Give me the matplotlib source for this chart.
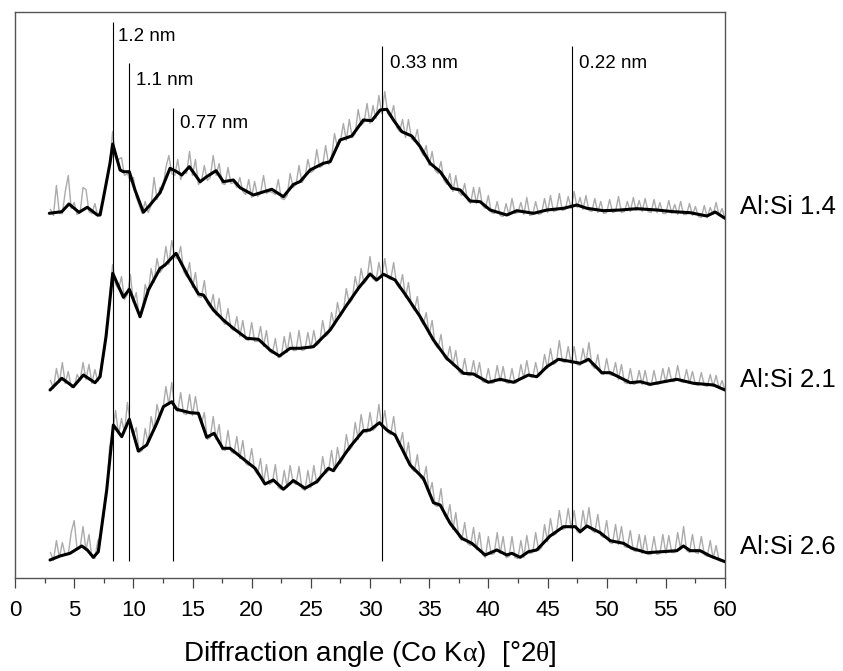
import numpy as np
import matplotlib
matplotlib.use("Agg")
import matplotlib.pyplot as plt

plt.rcParams['font.family'] = ['Liberation Sans', 'DejaVu Sans']
plt.rcParams['mathtext.fontset'] = 'custom'
plt.rcParams['mathtext.rm'] = 'Liberation Serif'
plt.rcParams['mathtext.it'] = 'Liberation Serif:italic'

# ---------------- data ----------------
sample_labels = ["Al:Si 1.4", "Al:Si 2.1", "Al:Si 2.6"]
stack_offsets = [360, 185, 15]

peak_angles = [8.31, 9.63, 13.38, 31.0, 47.03]
peak_labels = ["1.2 nm", "1.1 nm", "0.77 nm", "0.33 nm", "0.22 nm"]

# raw (noisy) intensities, step 0.25 deg from 3 to 60 (one row per degree)
raw_angle = np.arange(3.0, 60.001, 0.25)
raw_14 = [
    8, 2, 32, 4,      4, 26, 42, 9,     15, 3, 5, 30,     28, 6, 4, 14,
    1, 9, 18, 38,     52, 86, 60, 58,   60, 42, 44, 36,   40, 20, 12, 4,
    16, 5, 12, 40,    18, 30, 28, 50,   62, 44, 42, 58,   38, 46, 44, 66,
    42, 58, 33, 36,   52, 37, 40, 62,   42, 54, 34, 33,   50, 34, 35, 30,
    40, 26, 23, 38,   20, 36, 21, 24,   42, 24, 26, 25,   23, 38, 19, 18,
    22, 44, 30, 33,   52, 35, 40, 58,   45, 47, 68, 50,   52, 72, 53, 60,
    84, 70, 76, 94,   77, 98, 80, 84,   108, 92, 95, 114, 94, 112, 99, 122,
    104, 126, 104, 100, 112, 90, 86, 98, 80, 98, 79, 76,  88, 68, 62, 72,
    52, 66, 47, 44,   56, 37, 33, 44,   26, 42, 25, 22,   34, 17, 14, 30,
    14, 30, 12, 9,    22, 5, 4, 16,     2, 1, 14, 2,      19, 4, 5, 15,
    3, 20, 2, 3,      16, 3, 4, 19,     5, 22, 6, 7,      24, 7, 8, 21,
    9, 26, 10, 20,    8, 22, 7, 6,      19, 5, 16, 4,     5, 18, 5, 6,
    21, 5, 6, 16,     6, 20, 7, 17,     6, 19, 6, 5,      18, 5, 15, 4,
    4, 17, 4, 13,     3, 16, 3, 3,      14, 2, 11, 1,     0, 12, 0, 10,
    3, 15, 2, 9,      -1,
]
raw_21 = [
    12, 4, 24, 10,    30, 9, 21, 5,     5, 18, 12, 30,    13, 28, 9, 23,
    11, 24, 38, 60,   96, 128, 108, 103, 116, 93, 98, 118, 90, 100, 75, 80,
    108, 98, 124, 110, 134, 120, 124, 146, 128, 152, 135, 134, 146, 121, 116, 130,
    105, 120, 96, 95, 112, 89, 85, 98,  77, 94, 72, 68,   84, 64, 62, 76,
    56, 72, 53, 52,   70, 51, 51, 66,   46, 62, 41, 39,   54, 35, 36, 56,
    40, 60, 42, 42,   62, 42, 43, 60,   44, 62, 47, 50,   72, 56, 59, 80,
    67, 90, 76, 81,   104, 89, 93, 116, 102, 124, 109, 113, 136, 114, 111, 130,
    115, 134, 115, 113, 130, 108, 104, 118, 95, 110, 87, 82, 96, 73, 68, 80,
    58, 72, 48, 44,   58, 36, 32, 46,   27, 42, 21, 18,   34, 17, 17, 32,
    15, 30, 11, 10,   24, 9, 10, 27,   11, 26, 10, 9,    24, 9, 11, 28,
    14, 32, 16, 15,   30, 16, 19, 38,   24, 44, 28, 30,   52, 31, 30, 46,
    29, 46, 28, 27,   44, 30, 50, 27,   24, 38, 19, 18,   34, 18, 17, 30,
    13, 28, 10, 9,    24, 8, 9, 22,     8, 22, 7, 7,      22, 8, 9, 24,
    10, 25, 11, 11,   27, 11, 10, 23,   9, 21, 8, 7,      20, 7, 6, 18,
    6, 17, 4, 12,     2,
]
raw_26 = [
    10, 2, 22, 5,     20, 7, 8, 30,     42, 13, 15, 36,   12, 28, 5, 4,
    22, 26, 48, 70,   116, 129, 152, 128, 144, 130, 160, 137, 127, 135, 110, 112,
    134, 119, 146, 132, 158, 145, 153, 176, 158, 180, 154, 151, 170, 149, 148, 168,
    147, 166, 147, 139, 150, 123, 125, 146, 123, 138, 113, 112, 132, 111, 109, 126,
    104, 122, 99, 97, 114, 92, 88, 104, 79, 98, 78, 80,   98, 75, 73, 92,
    75, 97, 80, 78,   96, 74, 72, 92,   75, 97, 79, 82,   106, 89, 92, 112,
    91, 115, 99, 104, 128, 112, 116, 140, 123, 148, 130, 130, 150, 132, 135, 158,
    135, 152, 130, 128, 146, 122, 116, 130, 104, 120, 94, 91, 108, 85, 82, 96,
    68, 80, 57, 56,   74, 48, 43, 58,   33, 50, 26, 22,   40, 19, 17, 35,
    13, 30, 8, 5,     26, 8, 9, 30,     9, 26, 5, 6,      26, 5, 4, 22,
    5, 27, 9, 10,     30, 12, 15, 38,   21, 44, 27, 29,   52, 33, 34, 54,
    34, 52, 31, 29,   52, 34, 55, 32,   30, 48, 27, 25,   42, 20, 19, 38,
    18, 36, 16, 15,   32, 12, 11, 28,   9, 27, 8, 8,      26, 8, 9, 28,
    9, 27, 10, 10,    30, 13, 36, 12,   10, 28, 10, 9,    26, 8, 6, 22,
    4, 17, 2, 1,      1,
]

# smoothed curves
smooth_angle_14 = [2.9, 3.95, 4.56, 5.41, 6.11, 6.96, 7.19, 7.6, 8.03, 8.26, 8.88, 9.16, 9.66,
                   10.14, 10.85, 11.41, 12.26, 13.1, 13.67, 14.09, 14.73, 15.64, 16.2, 16.99,
                   17.61, 18.45, 19.02, 20.14, 21.7, 22.68, 23.52, 24.1, 24.94, 26.06, 26.63,
                   27.47, 28.46, 29.44, 30.15, 30.86, 31.42, 31.98, 32.69, 33.53, 34.24, 35.08,
                   35.93, 36.92, 37.62, 38.46, 39.31, 40.15, 41.56, 42.41, 43.82, 44.95, 46.35,
                   47.48, 48.33, 49.73, 51.14, 52.55, 54.24, 55.65, 57.06, 58.47, 59.17, 60.0]
smooth_14 = [4.2, 5.8, 13.5, 5.2, 10.2, 2.5, 2.5, 27.5, 54.5, 73.5, 47.5, 45.8, 45.8,
             27.5, 5.2, 12.5, 24.8, 49.2, 45.8, 42.5, 50.8, 35.8, 40.8, 46.8,
             35.8, 37.5, 29.8, 22.5, 28.2, 20.8, 33.0, 36.0, 47.5, 54.2, 55.8,
             77.5, 81.5, 97.5, 96.8, 107.5, 108.2, 97.5, 85.8, 81.5, 70.8, 54.2,
             45.8, 29.2, 27.5, 16.5, 15.8, 7.5, 2.5, 6.8, 4.2, 7.5, 9.2,
             12.5, 9.2, 6.8, 7.5, 8.8, 7.5, 5.8, 4.8, 1.5, 5.5, -0.8]

smooth_angle_21 = [2.96, 3.95, 4.93, 5.78, 6.76, 7.19, 7.69, 8.26, 9.16, 9.66, 10.57, 11.27,
                   12.26, 12.68, 13.61, 14.65, 15.5, 15.92, 16.76, 17.61, 18.45, 19.58, 20.57,
                   21.55, 22.34, 23.25, 24.1, 25.22, 26.63, 28.04, 29.02, 30.0, 30.57, 31.14,
                   32.12, 33.11, 34.24, 35.36, 36.49, 37.9, 38.74, 40.0, 41.0, 42.12, 43.39,
                   44.09, 44.95, 45.92, 47.06, 47.77, 48.47, 49.59, 50.3, 51.99, 52.83, 53.68,
                   55.93, 57.34, 59.03, 60.0]
smooth_21 = [2.5, 14.2, 5.8, 17.5, 9.8, 15.8, 55.8, 119.2, 95.2, 103.2, 75.8, 102.5,
             124.2, 127.5, 139.2, 115.8, 98.5, 97.5, 82.5, 72.5, 64.2, 54.2, 53.2,
             42.5, 36.5, 44.2, 44.2, 45.8, 62.5, 87.5, 104.2, 118.5, 112.5, 118.2,
             112.5, 95.8, 75.8, 52.5, 34.2, 19.2, 18.5, 10.2, 13.2, 10.2, 17.5,
             15.8, 25.8, 33.2, 30.8, 29.2, 33.2, 19.8, 19.8, 9.8, 10.8, 8.2,
             13.2, 9.2, 7.5, 2.5]

smooth_angle_26 = [2.96, 3.8, 4.65, 5.64, 6.11, 6.62, 7.04, 7.75, 8.31, 9.02, 9.66, 10.42,
                   11.13, 11.98, 12.54, 13.25, 13.67, 14.79, 15.5, 16.2, 16.82, 17.56, 18.17,
                   19.58, 20.29, 21.13, 21.83, 22.68, 23.52, 24.51, 25.5, 26.48, 26.9, 28.32,
                   29.44, 30.0, 30.8, 31.42, 32.12, 33.39, 34.51, 35.36, 35.93, 36.77, 37.76,
                   38.6, 39.73, 40.72, 41.56, 41.99, 42.69, 43.39, 44.09, 45.22, 46.35, 47.34,
                   47.77, 48.33, 49.45, 50.3, 51.42, 52.13, 53.4, 55.93, 56.49, 57.06, 57.9,
                   58.75, 60.0]
smooth_26 = [2.5, 6.5, 9.2, 16.5, 12.5, 5.2, 10.8, 72.5, 137.5, 125.8, 143.2, 111.5,
             117.5, 139.2, 155.8, 160.8, 153.2, 149.8, 149.2, 125.2, 129.2, 114.2, 114.2,
             100.8, 94.2, 78.5, 82.5, 73.2, 82.0, 74.2, 80.8, 94.2, 91.8, 115.8,
             131.8, 132.5, 139.8, 132.5, 127.5, 97.5, 84.2, 59.8, 57.5, 39.2, 24.2,
             19.2, 7.5, 12.5, 7.5, 9.2, 5.2, 10.8, 12.5, 26.5, 35.8, 35.8,
             30.8, 36.5, 29.8, 21.8, 19.2, 14.2, 9.8, 11.8, 16.5, 11.8, 11.8,
             6.5, 0.8]

raw_sets = [raw_14, raw_21, raw_26]
smooth_sets = [(smooth_angle_14, smooth_14), (smooth_angle_21, smooth_21),
               (smooth_angle_26, smooth_26)]

# ---------------- figure ----------------
W, H = 843, 671
fig = plt.figure(figsize=(W / 100, H / 100), dpi=100)
ax = fig.add_axes([15 / W, 1 - 577.5 / H, 710 / W, (577.5 - 11.7) / H])

for raw, (sa, sv), off in zip(raw_sets, smooth_sets, stack_offsets):
    ax.plot(raw_angle, np.array(raw) + off, color='#ababab', lw=1.0, zorder=2)
    ax.plot(sa, np.array(sv) + off, color='black', lw=2.2, zorder=3,
            solid_joinstyle='round', solid_capstyle='round')

line_tops = [555.5, 514.5, 469.5, 531.5, 531.5]
label_h = [541, 497, 454.5, 514.5, 514.5]
label_dx = [0.4, 0.6, 0.6, 0.65, 0.65]
for a, lab, top, lh, dx in zip(peak_angles, peak_labels, line_tops, label_h, label_dx):
    ax.vlines(a, 16.5, top, color='black', lw=0.8, zorder=4)
    ax.text(a + dx, lh, lab, fontsize=13.5, va='center', ha='left')

ax.set_xlim(0, 60)
ax.set_ylim(0, 565.8)
ax.set_yticks([])
ax.set_xticks(np.arange(0, 61, 5))
ax.set_xticks(np.arange(0, 61, 2.5), minor=True)
ax.tick_params(axis='x', which='major', direction='out', length=7.5, width=0.9,
               color='#444444', labelsize=16, pad=9)
ax.tick_params(axis='x', which='minor', direction='out', length=3.8, width=0.9,
               color='#444444')
for s in ax.spines.values():
    s.set_color('#555555')
    s.set_linewidth(1.0)

label_y = [207, 380, 547]
for lab, yy in zip(sample_labels, label_y):
    fig.text(740 / W, 1 - yy / H, lab, fontsize=18.5, va='center', ha='left')

fig.text(370 / W, 1 - 654 / H,
         r'Diffraction angle (Co K$\mathrm{\alpha}$)  [°2$\mathrm{\theta}$]',
         fontsize=20, va='center', ha='center')

fig.savefig('out.png', dpi=100)
